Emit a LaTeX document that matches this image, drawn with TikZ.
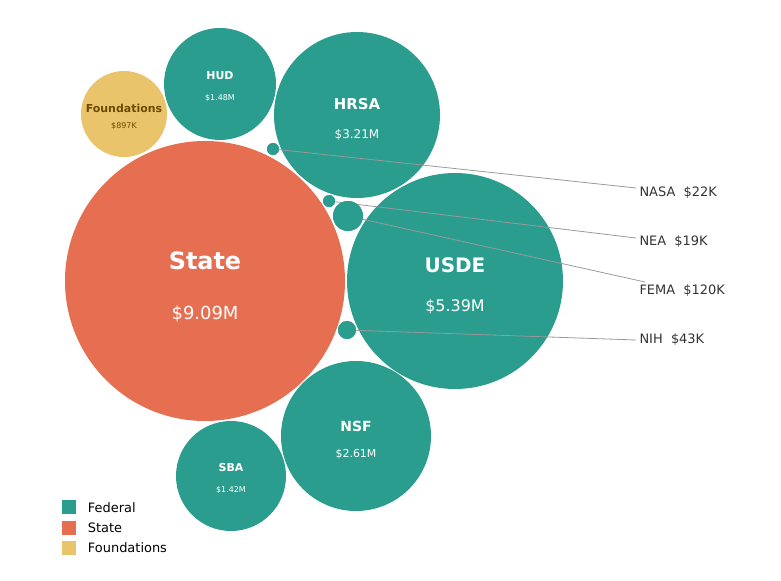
\documentclass[tikz,border=0pt]{standalone}
\usepackage{fontspec}
\setmainfont{DejaVu Sans}
\usetikzlibrary{positioning}
\definecolor{fed}{HTML}{2A9D8F}
\definecolor{sta}{HTML}{E76F51}
\definecolor{fnd}{HTML}{E9C46A}
\definecolor{fndtxt}{HTML}{6B4A05}
\tikzstyle{bub}=[circle,inner sep=0pt,draw=none]
\begin{document}
\begin{tikzpicture}[x=1bp,y=-1bp]
    \tikzstyle{lead}=[draw=gray!80,line width=.8pt]
    \tikzstyle{lab}=[anchor=west,text=black!80,font=\fontsize{13}{15}\selectfont]
    \tikzstyle{key}=[minimum size=14bp,inner sep=0pt,anchor=north west]
    \useasboundingbox (0,0) rectangle (781,581);

    \node[bub,fill=sta,minimum size=280bp] (state) at (205,281) {};
    \node[text=white,font=\bfseries\fontsize{24}{28}\selectfont] at (205,261) {State};
    \node[text=white,font=\fontsize{18}{22}\selectfont] at (205,314) {\$9.09M};

    \node[bub,fill=fed,minimum size=216bp] (usde) at (455,281) {};
    \node[text=white,font=\bfseries\fontsize{20}{24}\selectfont] at (455,265) {USDE};
    \node[text=white,font=\fontsize{16}{19}\selectfont] at (455,307) {\$5.39M};

    \node[bub,fill=fed,minimum size=166bp] (hrsa) at (357,115) {};
    \node[text=white,font=\bfseries\fontsize{15}{18}\selectfont] at (357,104) {HRSA};
    \node[text=white,font=\fontsize{12}{14}\selectfont] at (357,135) {\$3.21M};

    \node[bub,fill=fed,minimum size=112bp] (hud) at (220,84) {};
    \node[text=white,font=\bfseries\fontsize{11}{13}\selectfont] at (220,76) {HUD};
    \node[text=white,font=\fontsize{8}{10}\selectfont] at (220,98) {\$1.48M};

    \node[bub,fill=fnd,minimum size=86bp] (found) at (124,114) {};
    \node[text=fndtxt,font=\bfseries\fontsize{11}{13}\selectfont] at (124,108) {Foundations};
    \node[text=fndtxt,font=\fontsize{8}{10}\selectfont] at (124,126) {\$897K};

    \node[bub,fill=fed,minimum size=150bp] (nsf) at (356,436) {};
    \node[text=white,font=\bfseries\fontsize{14}{17}\selectfont] at (356,426) {NSF};
    \node[text=white,font=\fontsize{11}{13}\selectfont] at (356,454) {\$2.61M};

    \node[bub,fill=fed,minimum size=110bp] (sba) at (231,476) {};
    \node[text=white,font=\bfseries\fontsize{11}{13}\selectfont] at (231,468) {SBA};
    \node[text=white,font=\fontsize{8}{10}\selectfont] at (231,490) {\$1.42M};

    % small agencies and their leaders
    \node[bub,fill=fed,minimum size=12bp] (nasa) at (273,149) {};
    \node[bub,fill=fed,minimum size=12bp] (nea) at (329,201) {};
    \node[bub,fill=fed,minimum size=30bp] (fema) at (348,216) {};
    \node[bub,fill=fed,minimum size=18bp] (nih) at (347,330) {};

    \coordinate (nasaend) at (636,188);
    \coordinate (neaend) at (636,238);
    \coordinate (femaend) at (645,282);
    \coordinate (nihend) at (636,340);
    \draw[lead] (nasa.center) -- (nasaend);
    \draw[lead] (nea.center) -- (neaend);
    \draw[lead] (fema.center) -- (femaend);
    \draw[lead] (nih.center) -- (nihend);
    \node[bub,fill=fed,minimum size=12bp] at (nasa) {};
    \node[bub,fill=fed,minimum size=12bp] at (nea) {};
    \node[bub,fill=fed,minimum size=30bp] at (fema) {};
    \node[bub,fill=fed,minimum size=18bp] at (nih) {};

    \node[lab] (nasalab) at (636,193) {NASA\ \ \$22K};
    \node[lab] (nealab) at (636,242) {NEA\ \ \$19K};
    \node[lab] (femalab) at (636,291) {FEMA\ \ \$120K};
    \node[lab] (nihlab) at (636,340) {NIH\ \ \$43K};

    % legend
    \node[key,fill=fed] (kfed) at (62,500) {};
    \node[key,fill=sta,below=6bp of kfed.south west,anchor=north west] (ksta) {};
    \node[key,fill=fnd,below=6bp of ksta.south west,anchor=north west] (kfnd) {};
    \node[lab,right=8bp of kfed,text=black] {Federal};
    \node[lab,right=8bp of ksta,text=black] {State};
    \node[lab,right=8bp of kfnd,text=black] {Foundations};
\end{tikzpicture}
\end{document}
